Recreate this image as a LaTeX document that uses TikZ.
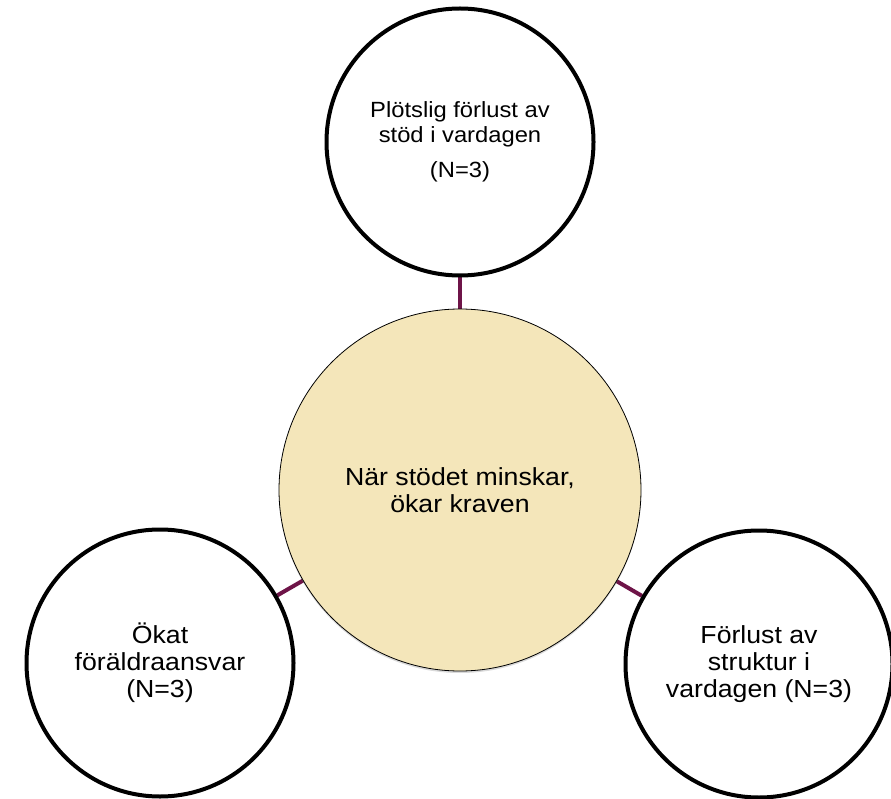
\documentclass[tikz,border=0pt]{standalone}
\usepackage{fontspec}
\setmainfont{Liberation Sans}[FakeStretch=1.08]
\usetikzlibrary{shadows,backgrounds}

\definecolor{linkcol}{RGB}{110,20,72}
\definecolor{corefill}{RGB}{244,230,186}

\begin{document}
\begin{tikzpicture}[x=1pt,y=-1pt,
  outer node/.style={circle,draw,line width=4pt,fill=white,inner sep=0pt,
    minimum size=267pt,align=center,font=\fontsize{24.7}{27}\selectfont},
  core node/.style={circle,draw,line width=0.8pt,fill=corefill,inner sep=0pt,
    minimum size=362pt,align=center,font=\fontsize{24.7}{27}\selectfont,
    drop shadow={opacity=0.3,shadow xshift=0pt,shadow yshift=-2pt}},
  link/.style={draw=linkcol,line width=4pt}]

  \useasboundingbox (0,0) rectangle (891,799);

  \node[core node] (core) at (460,490) {När stödet minskar,\\ökar kraven};
  \node[outer node,font=\fontsize{22}{25}\selectfont] (top) at (460,142)
    {Plötslig förlust av\\stöd i vardagen\\[10pt](N=3)};
  \node[outer node] (left) at (160,663) {Ökat\\föräldraansvar\\(N=3)};
  \node[outer node] (right) at (759,664) {Förlust av\\struktur i\\vardagen (N=3)};

  \begin{scope}[on background layer]
    \path[link] (core) -- (top);
    \path[link] (core) -- (left);
    \path[link] (core) -- (right);
  \end{scope}

\end{tikzpicture}
\end{document}
